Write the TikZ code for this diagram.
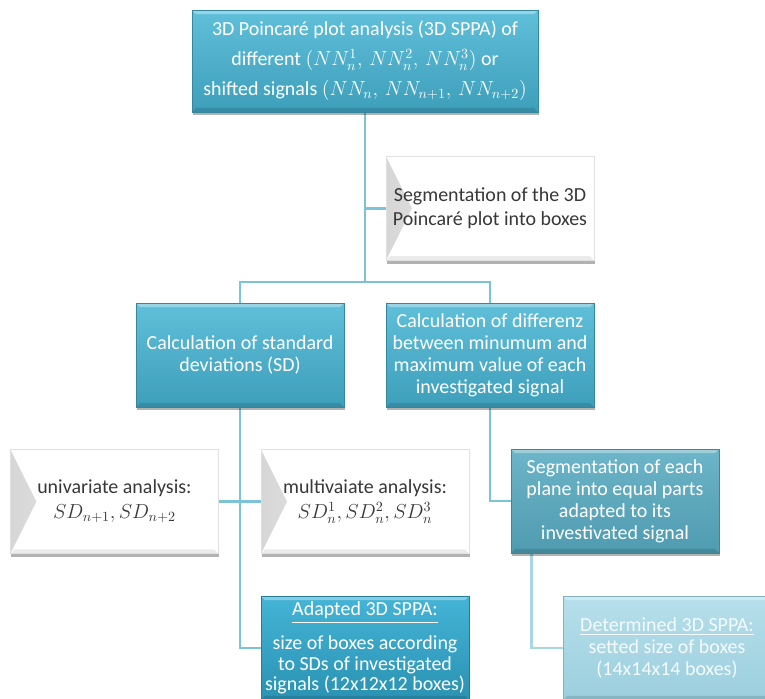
\documentclass[tikz,border=0pt]{standalone}
\usepackage{fontspec}
\setmainfont{Carlito}
\usepackage{amsmath}
\usetikzlibrary{positioning, shadows, backgrounds, calc}

\definecolor{sppaTop}{HTML}{60BFD9}
\definecolor{sppaBot}{HTML}{3E9FBB}
\definecolor{adaptTop}{HTML}{45B4D6}
\definecolor{adaptBot}{HTML}{2A92B3}
\definecolor{planeTop}{HTML}{6DB5C8}
\definecolor{planeBot}{HTML}{4F9BB0}
\definecolor{fixedTop}{HTML}{B6DFEA}
\definecolor{fixedBot}{HTML}{9CCFDE}
\definecolor{linkblue}{HTML}{7CC3D8}
\definecolor{linkpale}{HTML}{A9D6E3}

\newcommand{\diagfont}{\fontsize{14.2}{15.6}\selectfont}

\begin{document}
\begin{tikzpicture}[
        box/.style={rectangle, minimum width=5.2cm, minimum height=2.6cm, align=center, inner sep=2pt, font=\diagfont,
            drop shadow={shadow xshift=0.6pt, shadow yshift=-2.2pt, opacity=0.3, fill=black}},
        bevel/.style={path picture={
            \fill[white, opacity=0.35] (path picture bounding box.north west) -- (path picture bounding box.north east)
                -- ([shift={(-3pt,-3pt)}]path picture bounding box.north east) -- ([shift={(3pt,-3pt)}]path picture bounding box.north west) -- cycle;
            \fill[black, opacity=0.12] (path picture bounding box.south west) -- (path picture bounding box.south east)
                -- ([shift={(-3pt,3pt)}]path picture bounding box.south east) -- ([shift={(3pt,3pt)}]path picture bounding box.south west) -- cycle;}},
        tealbox/.style={box, bevel, text=white, top color=#1Top, bottom color=#1Bot, draw=#1Bot!85!black, line width=0.3pt},
        tealbox/.default=sppa,
        plainbox/.style={box, fill=white, draw=black!12, line width=0.3pt, text=black!78,
            path picture={
            \fill[left color=black!16, right color=white] (path picture bounding box.north west)
                -- ([xshift=0.65cm]path picture bounding box.west) -- (path picture bounding box.south west) -- cycle;
            \fill[black, opacity=0.08] (path picture bounding box.south west) -- (path picture bounding box.south east)
                -- ([shift={(-3pt,3pt)}]path picture bounding box.south east) -- ([shift={(3pt,3pt)}]path picture bounding box.south west) -- cycle;}},
        link/.style={draw=linkblue, line width=2.1pt},
        palelink/.style={draw=linkpale, line width=2.1pt}
    ]

    \useasboundingbox (0,0) rectangle (19.125,-17.45);

    % --- top level ---
    \node[tealbox, minimum width=8.65cm, minimum height=2.55cm, font=\fontsize{14.2}{21.3}\selectfont] (poincare) at (9.125,-1.525)
        {3D Poincaré plot analysis (3D SPPA) of\\ different $(NN_n^1,\, NN_n^2,\, NN_n^3)$ or\\ shifted signals $(NN_n,\, NN_{n+1},\, NN_{n+2})$};
    \node[plainbox, font=\fontsize{14.2}{17}\selectfont] (segment) at (12.25,-5.21)
        {Segmentation of the 3D\\ Poincaré plot into boxes};

    % --- two ways of sizing the boxes ---
    \node[tealbox] (stddev) at (6,-8.875) {Calculation of standard\\ deviations (SD)};
    \node[tealbox] (range) at (12.25,-8.875)
        {Calculation of differenz\\ between minumum and\\ maximum value of each\\ investigated signal};

    \node[plainbox, font=\fontsize{14.2}{17.8}\selectfont] (univar) at (2.86,-12.54) {univariate analysis:\\ $SD_{n+1}, SD_{n+2}$};
    \node[plainbox, font=\fontsize{14.2}{17.8}\selectfont] (multivar) at (9.125,-12.54) {multivaiate analysis:\\ $SD_n^1, SD_n^2, SD_n^3$};
    \node[tealbox=plane] (planes) at (15.375,-12.525)
        {Segmentation of each\\ plane into equal parts\\ adapted to its\\ investivated signal};

    % --- results ---
    \node[tealbox=adapt, font=\fontsize{14.2}{14.5}\selectfont] (adapted) at (9.125,-16.2)
        {\underline{Adapted 3D SPPA:}\\[8pt] size of boxes according\\ to SDs of investigated\\ signals (12x12x12 boxes)};
    \node[tealbox=fixed, text=white!90!fixedBot] (fixed) at (16.675,-16.2)
        {\underline{Determined 3D SPPA:}\\ setted size of boxes\\ (14x14x14 boxes)};

    % --- connectors ---
    \begin{scope}[on background layer]
        \coordinate (fork) at (9.125,-7.05);
        \draw[link] (poincare.south) -- (fork);
        \draw[link] (poincare.south |- segment.west) -- (segment.west);
        \draw[link] (stddev.north) |- (fork) -| (range.north);
        \draw[link] (stddev.south) |- (adapted.west);
        \draw[link] (univar.east) -- (multivar.west);
        \draw[link] (range.south) |- (planes.west);
        \draw[palelink] ([xshift=0.525cm]planes.south west) |- (fixed.west);
    \end{scope}

\end{tikzpicture}
\end{document}
